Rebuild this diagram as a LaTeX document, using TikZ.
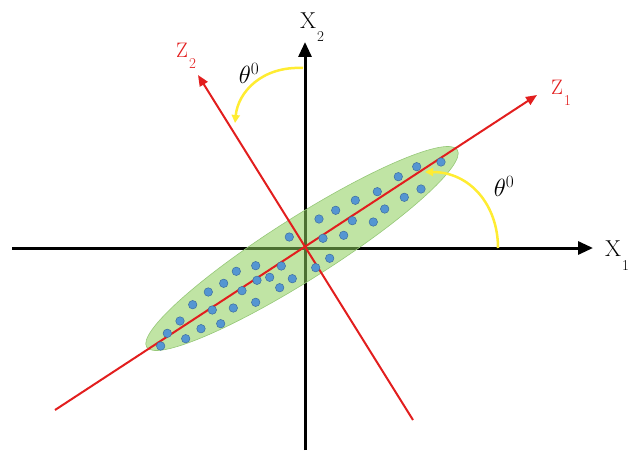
\documentclass[tikz,border=0pt]{standalone}
\usetikzlibrary{arrows.meta}
\definecolor{axred}{RGB}{226,30,30}
\definecolor{arcyel}{RGB}{255,236,50}
\definecolor{ellgreen}{RGB}{140,205,90}
\definecolor{ellborder}{RGB}{150,200,120}
\definecolor{dotblue}{RGB}{84,150,210}
\definecolor{dotedge}{RGB}{60,110,160}
\begin{document}
\begin{tikzpicture}[x=1pt,y=-1pt,
  blackaxis/.style={line width=3pt,black,-{Triangle[length=15pt,width=13pt]}},
  redaxis/.style={line width=2pt,axred,-{Triangle[length=11pt,width=9pt]}},
  yelarc/.style={line width=2.5pt,arcyel,-{Triangle[length=8pt,width=8pt]}},
  dot/.style={circle,fill=dotblue,draw=dotedge,line width=0.5pt,inner sep=0pt,minimum size=8.5pt},
  xlbl/.style={font=\fontsize{23}{26}\selectfont,inner sep=0pt},
  zlbl/.style={font=\fontsize{21}{24}\selectfont,inner sep=0pt,axred},
  thlbl/.style={font=\fontsize{25}{28}\selectfont,inner sep=0pt},
  sublbl/.style={font=\fontsize{15}{15}\selectfont,inner sep=0pt}
]
\useasboundingbox (0,0) rectangle (631,452);
% coordinates
\coordinate (O) at (305,247);
\coordinate (xl) at (12,248);
\coordinate (xr) at (593,248);
\coordinate (yb) at (305,450);
\coordinate (yt) at (305,42);
\coordinate (z1a) at (55,410);
\coordinate (z1b) at (537,95);
\coordinate (z2a) at (413,420);
\coordinate (z2b) at (198,75);
\coordinate (a1s) at (303,68);
\coordinate (a1e) at (235,123);
\coordinate (a2s) at (498,248);
\coordinate (a2e) at (425,172);
% black axes
\draw[blackaxis] (xl) -- (xr);
\draw[blackaxis] (yb) -- (yt);
% ellipse
\fill[ellgreen,fill opacity=0.55,rotate around={32.4:(302,248.5)}] (302,248.5) ellipse [x radius=184pt,y radius=31pt];
\draw[ellborder,line width=0.6pt,rotate around={32.4:(302,248.5)}] (302,248.5) ellipse [x radius=184pt,y radius=31pt];
% red axes
\draw[redaxis] (z1a) -- (z1b);
\draw[redaxis] (z2a) -- (z2b);
% dots
\foreach \p [count=\i] in {(441,162),(416.7,166.7),(398.3,176.7),(421,189),(404.3,197.3),(377.3,191.7),(384.7,209),(355.3,200.3),(335.7,210.3),(319,219),(352.3,220.7),(373.3,222),(343.7,235.3),(323,238.3),(289.3,237),(329.7,258.3),(315.7,267.7),(281.3,266),(255.7,265.7),(269.7,277.3),(292.3,278.7),(257,280.3),(236.3,271.3),(279.7,287.7),(242,290.7),(223.7,283.3),(208.3,292),(255.7,302.3),(233.3,308),(212.3,310),(192.7,304.7),(220.7,323.7),(201,328.7),(180,321),(185.7,338.7),(167.3,333.3),(160.7,346)}
  \node[dot] (d\i) at \p {};
% yellow arcs
\draw[yelarc] (a1s) .. controls (262,66) and (238,92) .. (a1e);
\draw[yelarc] (a2s) .. controls (498,205) and (470,172) .. (a2e);
% labels
\node[xlbl] (lx2) at (308,21) {X};
\node[sublbl,anchor=west] (lx2s) at (317,37) {2};
\node[xlbl] (lx1) at (613,249) {X};
\node[sublbl,anchor=west] (lx1s) at (622,266) {1};
\node[zlbl] (lz1) at (557,87) {Z};
\node[sublbl,anchor=west,axred] (lz1s) at (564,101) {1};
\node[zlbl] (lz2) at (182,50) {Z};
\node[sublbl,anchor=west,axred] (lz2s) at (189,64) {2};
\node[thlbl] (th1) at (249,73) {$\theta^{0}$};
\node[thlbl] (th2) at (504,186) {$\theta^{0}$};
\end{tikzpicture}
\end{document}
